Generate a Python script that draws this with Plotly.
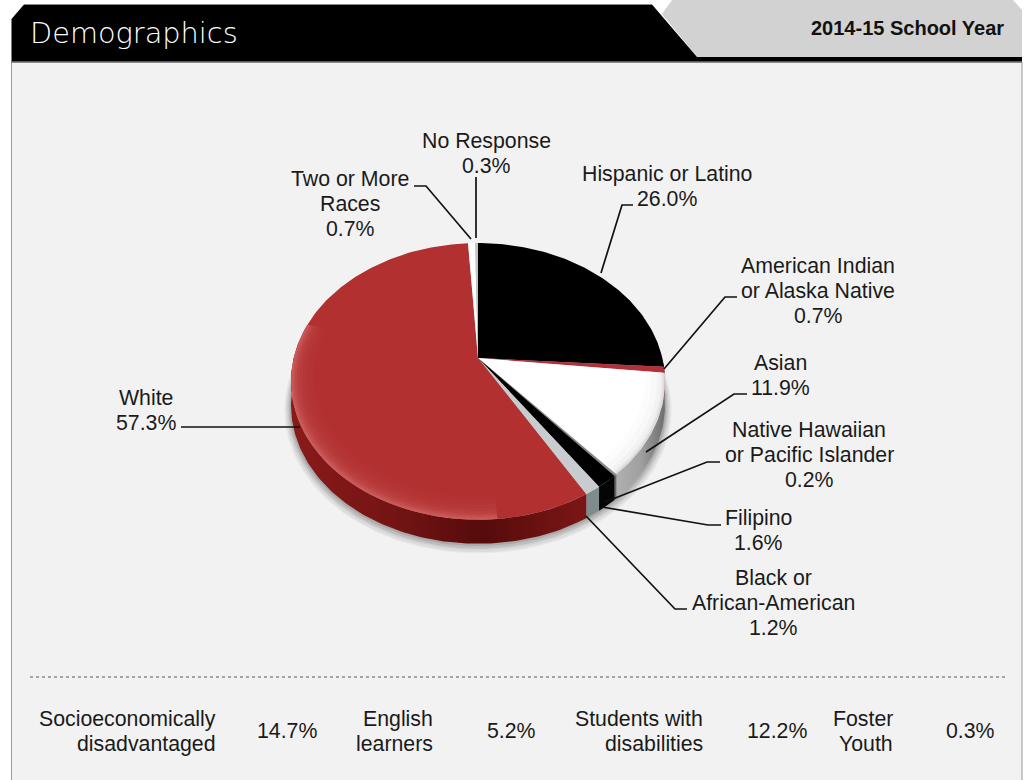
import math
import plotly.graph_objects as go

# ---- data -----------------------------------------------------------------
categories = ["Hispanic or Latino", "American Indian or Alaska Native", "Asian",
              "Native Hawaiian or Pacific Islander", "Filipino",
              "Black or African-American", "White", "Two or More Races", "No Response"]
values = [26.0, 0.7, 11.9, 0.2, 1.6, 1.2, 57.3, 0.7, 0.3]
top_colors = ["#000000", "#b3303a", "#ffffff", "#8a8a8a", "#000000",
              "#c9cccf", "#b23030", "#ffffff", "#c4c4c4"]
side_colors = ["#000000", "#7a1a1a", "#9a9a9a", "#666666", "#050505",
               "#7f8c8c", "#651010", "#bbbbbb", "#999999"]

label_lines = [["Hispanic or Latino", "26.0%"],
               ["American Indian", "or Alaska Native", "0.7%"],
               ["Asian", "11.9%"],
               ["Native Hawaiian", "or Pacific Islander", "0.2%"],
               ["Filipino", "1.6%"],
               ["Black or", "African-American", "1.2%"],
               ["White", "57.3%"],
               ["Two or More", "Races", "0.7%"],
               ["No Response", "0.3%"]]
label_pos = [(667, 186), (818, 291), (780, 375), (809, 455), (758, 530),
             (773, 603), (146, 410), (350, 204), (486, 153)]
leaders = [[(633, 205), (622, 205), (601, 273)],
           [(737, 297), (725, 297), (664, 369)],
           [(747, 394), (734, 394), (646, 452)],
           [(720, 462), (707, 462), (605, 502)],
           [(721, 525), (708, 525), (602, 507)],
           [(687, 609), (675, 609), (586, 516)],
           [(181, 427), (300, 427)],
           [(414, 186), (426, 186), (471, 239)],
           [(476, 177), (476, 238)]]

stat_labels = [["Socioeconomically", "disadvantaged"], ["English", "learners"],
               ["Students with", "disabilities"], ["Foster", "Youth"]]
stat_values = ["14.7%", "5.2%", "12.2%", "0.3%"]
stat_label_right = [217, 434, 704, 894]
stat_value_center = [287, 511, 777, 970]

title_text = "Demographics"
year_text = "2014-15 School Year"

# ---- pie projection (perspective view of a circle) -------------------------
CX, CY, A, B, K, DEPTH = 478.0, 358.0, 184.3, 134.4, 0.169, 24.0


def proj(theta_deg, r=1.0, dy=0.0):
    t = math.radians(theta_deg)
    u, v = r * math.sin(t), r * math.cos(t)
    d = 1 + K * v
    return CX + A * u / d, CY - B * v / d + dy


def arc(t0, t1, r=1.0, dy=0.0):
    n = max(2, int(abs(t1 - t0) / 1.0) + 1)
    pts = [proj(t0 + (t1 - t0) * i / (n - 1), r, dy) for i in range(n)]
    return [p[0] for p in pts], [p[1] for p in pts]


total = sum(values)
bounds = [0.0]
for val in values:
    bounds.append(bounds[-1] + val / total * 360.0)

fig = go.Figure()


def poly(xs, ys, color, name=None, gradient=None):
    kw = dict(x=xs, y=ys, mode="lines", line=dict(width=0), fill="toself",
              hoverinfo="text" if name else "skip", text=name, showlegend=False)
    if gradient:
        kw["fillgradient"] = gradient
    else:
        kw["fillcolor"] = color
    fig.add_trace(go.Scatter(**kw))


# soft shadow under the pie
for r, dy, a in [(1.035, 27, .04), (1.028, 27, .05), (1.021, 26, .06), (1.014, 26, .08), (1.007, 25, .10)]:
    x, y = arc(0, 360, r, dy)
    poly(x, y, f"rgba(0,0,0,{a})")

# side walls (only the front of the rim is visible)
for i, cat in enumerate(categories):
    t0, t1 = max(bounds[i], 90.0), min(bounds[i + 1], 285.0)
    if t1 <= t0:
        continue
    x0, y0 = arc(t0, t1)
    x1, y1 = arc(t1, t0, 1.0, DEPTH)
    grad = None
    if cat == "White":
        grad = dict(type="horizontal", colorscale=[[0, "#8a1a1a"], [.35, "#741414"], [.65, "#560b0b"], [1, "#7c1616"]])
    elif cat == "Asian":
        grad = dict(type="horizontal", colorscale=[[0, "#b0b0b0"], [.5, "#a0a0a0"], [1, "#6e6e6e"]])
    poly(x0 + x1, y0 + y1, side_colors[i], None, grad)

# top face
for i, cat in enumerate(categories):
    x, y = arc(bounds[i], bounds[i + 1])
    poly([CX] + x + [CX], [CY] + y + [CY], top_colors[i], f"{cat}: {values[i]}%")

# rim highlights and shading on the top face
wi = categories.index("White")
ai = categories.index("Asian")
for r, a in [(.88, .02), (.90, .025), (.92, .03), (.94, .04), (.955, .05), (.97, .07), (.98, .09), (.99, .12)]:
    x0, y0 = arc(bounds[wi] + 25, bounds[wi] + 135, r)
    x1, y1 = arc(bounds[wi] + 135, bounds[wi] + 25, 1.0)
    poly(x0 + x1, y0 + y1, f"rgba(255,170,170,{a})")
for r, a in [(.90, .012), (.93, .015), (.96, .025), (.98, .035), (.99, .06)]:
    x0, y0 = arc(bounds[ai], bounds[ai + 1], r)
    x1, y1 = arc(bounds[ai + 1], bounds[ai], 1.0)
    poly(x0 + x1, y0 + y1, f"rgba(0,0,0,{a})")

# ---- furniture -------------------------------------------------------------
shapes = [
    dict(type="rect", x0=11.5, x1=1022, y0=62, y1=781, fillcolor="#f2f2f2",
         line=dict(color="#9a9a9a", width=1), layer="below"),
    dict(type="path", path="M672,0 L1013,0 L1022,10 L1022,57 L697,57 L662,14 Z", fillcolor="#d2d2d2",
         line=dict(width=0), layer="below"),
    dict(type="path", path="M11.5,62 L11.5,19 L24,4.5 L652,4.5 L697,57 L1022,57 L1022,62 Z", fillcolor="#000000",
         line=dict(width=0), layer="below"),
    dict(type="line", x0=24, x1=652, y0=4.5, y1=4.5, line=dict(color="#8a8a8a", width=1), layer="below"),
    dict(type="line", x0=11.5, x1=1022, y0=62, y1=62, line=dict(color="#777777", width=1.5), layer="below"),
    dict(type="line", x0=30, x1=1008, y0=677, y1=677, line=dict(color="#8c8c8c", width=1.6, dash="dot"),
         layer="below"),
]
for pts in leaders:
    path = "M" + " L".join(f"{px},{py}" for px, py in pts)
    shapes.append(dict(type="path", path=path, line=dict(color="#111111", width=1.7)))

FONT = "Liberation Sans, Arial, sans-serif"
SIZE = 21.3
SPACING = 25
annotations = []


def note(text, x, y, size=SIZE, anchor="center", color="#1a1a1a", family=FONT, weight=None):
    font = dict(size=size, color=color, family=family)
    if weight:
        font["weight"] = weight
    annotations.append(dict(text=text, x=x, y=y, xref="x", yref="y", showarrow=False, xanchor=anchor,
                            yanchor="middle", borderpad=0, font=font))


def block(lines, x, y, anchor="center"):
    for j, line in enumerate(lines):
        note(line, x, y + (j - (len(lines) - 1) / 2) * SPACING, anchor=anchor)


for lines, (px, py) in zip(label_lines, label_pos):
    block(lines, px, py)
for lab, right, val, center in zip(stat_labels, stat_label_right, stat_values, stat_value_center):
    block(lab, right, 731, anchor="right")
    note(val, center, 731)
note(title_text, 29, 33, size=28.8, anchor="left", color="#ffffff", family="DejaVu Sans, sans-serif", weight=200)
note("<b>" + year_text + "</b>", 1005, 28, size=20, anchor="right", color="#111111")

fig.update_layout(
    width=1027, height=780, margin=dict(l=0, r=0, t=0, b=0), autosize=False,
    paper_bgcolor="#ffffff", plot_bgcolor="rgba(0,0,0,0)", showlegend=False,
    xaxis=dict(range=[0, 1027], visible=False, fixedrange=True),
    yaxis=dict(range=[780, 0], visible=False, fixedrange=True),
    shapes=shapes, annotations=annotations,
)
fig.write_html("out.html", config={"displayModeBar": False},
               post_script="document.body.style.margin='0';document.body.style.overflow='hidden';")
